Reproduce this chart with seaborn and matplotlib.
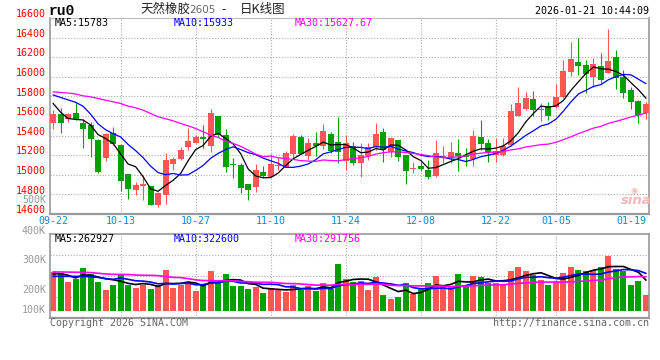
import numpy as np
import pandas as pd
import matplotlib
matplotlib.use("Agg")
import matplotlib.pyplot as plt
import matplotlib.transforms as mtrans
import seaborn as sns

# ---------------- data ----------------
dates = ["09-22", "09-23", "09-24", "09-25", "09-26", "09-29", "09-30",
         "10-09", "10-10", "10-13", "10-14", "10-15", "10-16", "10-17",
         "10-20", "10-21", "10-22", "10-23", "10-24", "10-27", "10-28",
         "10-29", "10-30", "10-31", "11-03", "11-04", "11-05", "11-06",
         "11-07", "11-10", "11-11", "11-12", "11-13", "11-14", "11-17",
         "11-18", "11-19", "11-20", "11-21", "11-24", "11-25", "11-26",
         "11-27", "11-28", "12-01", "12-02", "12-03", "12-04", "12-05",
         "12-08", "12-09", "12-10", "12-11", "12-12", "12-15", "12-16",
         "12-17", "12-18", "12-19", "12-22", "12-23", "12-24", "12-25",
         "12-26", "12-29", "12-30", "12-31", "01-05", "01-06", "01-07",
         "01-08", "01-09", "01-12", "01-13", "01-14", "01-15", "01-16",
         "01-19", "01-20", "01-21"]

opens = [15531, 15619, 15565, 15633, 15531, 15507, 15354, 15170, 15429, 15303,
         15007, 14847, 14888, 14885, 14691, 14796, 15109, 15157, 15279, 15327,
         15388, 15293, 15599, 15405, 15109, 15099, 14905, 14878, 15028, 14973,
         15089, 15082, 15211, 15388, 15191, 15320, 15293, 15415, 15334, 15143,
         15293, 15123, 15194, 15279, 15436, 15235, 15354, 15198, 15062, 15089,
         15048, 14987, 15170, 15172, 15223, 15206, 15162, 15385, 15325, 15206,
         15206, 15308, 15595, 15670, 15771, 15663, 15703, 15690, 15791, 16052,
         16150, 16119, 16001, 16109, 16042, 16200, 16001, 15866, 15754, 15632]
highs = [15660, 15677, 15626, 15728, 15565, 15541, 15361, 15422, 15490, 15303,
         15007, 14929, 14997, 14885, 14827, 15218, 15184, 15279, 15473, 15405,
         15507, 15667, 15599, 15463, 15167, 15116, 14905, 15109, 15089, 15211,
         15184, 15245, 15415, 15402, 15374, 15436, 15517, 15439, 15585, 15405,
         15334, 15320, 15320, 15524, 15473, 15388, 15354, 15198, 15133, 15133,
         15150, 15354, 15295, 15335, 15368, 15274, 15460, 15561, 15368, 15375,
         15375, 15724, 15896, 15849, 15856, 15730, 15747, 15927, 16177, 16353,
         16397, 16170, 16197, 16241, 16485, 16278, 16069, 15899, 15764, 15747]
lows = [15466, 15422, 15541, 15558, 15276, 15184, 15014, 15143, 15303, 14837,
        14756, 14793, 14742, 14688, 14674, 14701, 15048, 15150, 15252, 15320,
        15269, 15235, 15388, 15031, 14963, 14810, 14742, 14827, 14980, 14973,
        15048, 15075, 15157, 15211, 15150, 15191, 15259, 15225, 15123, 15048,
        15099, 14980, 15150, 15252, 15133, 15184, 15143, 14905, 15014, 15041,
        14960, 14980, 15120, 15122, 15037, 15088, 15088, 15257, 15128, 15128,
        15189, 15291, 15595, 15663, 15595, 15551, 15561, 15680, 15781, 16008,
        16018, 15832, 15899, 15933, 16035, 15876, 15781, 15673, 15527, 15571]
closes = [15619, 15524, 15619, 15565, 15470, 15368, 15031, 15415, 15313, 14939,
          14851, 14895, 14905, 14694, 14810, 15150, 15157, 15252, 15344, 15381,
          15361, 15626, 15405, 15082, 15096, 14868, 14844, 15048, 14987, 15109,
          15099, 15225, 15395, 15211, 15320, 15293, 15449, 15245, 15235, 15320,
          15123, 15201, 15279, 15415, 15252, 15374, 15184, 15041, 15072, 15055,
          14980, 15218, 15195, 15233, 15196, 15179, 15399, 15318, 15223, 15240,
          15297, 15656, 15734, 15781, 15663, 15673, 15602, 15798, 16058, 16180,
          16109, 16028, 16129, 15967, 16160, 15984, 15839, 15747, 15612, 15724]
volumes = [333000, 324000, 248000, 270000, 367000, 316000, 248000, 179000, 222000, 307000,
           225000, 196000, 219000, 188000, 219000, 350000, 196000, 225000, 248000, 174000,
           231000, 342000, 236000, 316000, 213000, 213000, 188000, 205000, 154000, 188000,
           188000, 165000, 222000, 179000, 213000, 174000, 239000, 185000, 401000, 273000,
           248000, 256000, 179000, 290000, 137000, 102000, 120000, 239000, 145000, 185000,
           239000, 302000, 205000, 205000, 316000, 213000, 302000, 290000, 239000, 239000,
           222000, 342000, 376000, 342000, 307000, 265000, 222000, 248000, 324000, 376000,
           350000, 342000, 350000, 376000, 472000, 359000, 342000, 222000, 256000, 137000]

# moving-average values at the start of the window (history not shown)
ma5_head = [15730, 15640, 15575, 15565]
ma10_head = [15815, 15790, 15765, 15740, 15700, 15620, 15520, 15460, 15420]
ma30_head = [15847, 15840, 15835, 15825, 15806, 15796, 15779, 15762, 15745, 15728,
             15701, 15684, 15660, 15626, 15592, 15572, 15551, 15524, 15500, 15473,
             15439, 15405, 15381, 15344, 15320, 15290, 15252, 15211, 15184]
vma5_head = [316000, 319000, 305000, 282000]
vma10_head = [296000, 296000, 296000, 295000, 294000, 293000, 287000, 276000, 270000]
vma30_head = [333000, 333000, 332000, 331000, 330000, 328000, 322000, 316000, 313000, 312000,
              311000, 307000, 305000, 304000, 302000, 293000, 287000, 285000, 276000, 266000,
              260000, 259000, 258000, 258000, 257000, 252000, 250000, 246000, 245000]

price_ticks = [16600, 16400, 16200, 16000, 15800, 15600, 15400, 15200, 15000, 14800, 14600]
date_ticks = ["09-22", "10-13", "10-27", "11-10", "11-24", "12-08", "12-22", "01-05", "01-19"]
vol_tick_labels = ["500K", "400K", "300K", "200K", "100K"]

symbol = "ru0"
title_name = "天然橡胶"
title_code = "2605"
title_kind = "日K线图"
timestamp = "2026-01-21 10:44:09"
price_ma_text = ["MA5:15783", "MA10:15933", "MA30:15627.67"]
vol_ma_text = ["MA5:262927", "MA10:322600", "MA30:291756"]
copyright_text = "Copyright 2026 SINA.COM"
url_text = "http://finance.sina.com.cn"

# ---------------- style ----------------
sns.set_style("white")
plt.rcParams["font.family"] = ["DejaVu Sans Mono", "Noto Sans CJK SC"]

RED = "#FF5555"
GREEN = "#00A000"
GRID = "#AAAAAA"
FRAME = "#9A9A9A"
MA_COLORS = ["black", "#0000FF", "#FF00FF"]
DATE_BLUE = "#0A8CD2"
FS = 7.2

W, H = 660, 360
fig = plt.figure(figsize=(W / 100, H / 100), dpi=100)
fig.patch.set_facecolor("white")


def fx(x):
    return x / W


def fy(y):
    return 1 - y / H


L, R = 50.3, 649.3
P_TOP, P_BOT = 18.1, 213.9
V_TOP, V_BOT = 234.0, 318.0
ax = fig.add_axes([fx(L), fy(P_BOT), (R - L) / W, (P_BOT - P_TOP) / H])
axv = fig.add_axes([fx(L), fy(V_BOT), (R - L) / W, (V_BOT - V_TOP) / H])

n = len(closes)
idx = np.arange(n)
o = np.array(opens, float)
c = np.array(closes, float)
hi = np.array(highs, float)
lo = np.array(lows, float)
vol = np.array(volumes, float)

cs = pd.Series(c)
ma5 = cs.rolling(5).mean().to_numpy(); ma5[:4] = ma5_head
ma10 = cs.rolling(10).mean().to_numpy(); ma10[:9] = ma10_head
ma30 = cs.rolling(30).mean().to_numpy(); ma30[:29] = ma30_head
vs = pd.Series(vol)
vma5 = vs.rolling(5).mean().to_numpy(); vma5[:4] = vma5_head
vma10 = vs.rolling(10).mean().to_numpy(); vma10[:9] = vma10_head
vma30 = vs.rolling(30).mean().to_numpy(); vma30[:29] = vma30_head

up = c >= o
colors = np.where(up, RED, GREEN)

XLIM = (-0.36, 79.44)
for a in (ax, axv):
    a.set_xlim(*XLIM)
    a.set_xticks([])
    a.set_yticks([])
    a.set_facecolor("white")
ax.set_ylim(14600, 16600)
axv.set_ylim(-59800, 657000)

dotted = (0, (1, 1.6))
# grid
for p in price_ticks[1:-1]:
    ax.axhline(p, color=GRID, lw=0.8, ls=dotted, zorder=0)
for frac in (0.25, 0.5, 0.75):
    axv.plot([0, 1], [frac, frac], transform=axv.transAxes, color=GRID, lw=0.8, ls=dotted, zorder=0)
for lbl in date_ticks[1:-1]:
    xi = dates.index(lbl)
    ax.axvline(xi, color=GRID, lw=0.8, ls=dotted, zorder=0)
    axv.axvline(xi, color=GRID, lw=0.8, ls=dotted, zorder=0)

# candles
ax.vlines(idx, lo, hi, colors=colors, lw=0.8, zorder=2)
body_bottom = np.minimum(o, c)
body_h = np.maximum(np.abs(c - o), 9)
ax.bar(idx, body_h, bottom=body_bottom, width=0.8, color=colors, linewidth=0, zorder=3)

# moving averages
for m, col in zip((ma5, ma10, ma30), MA_COLORS):
    sns.lineplot(x=idx, y=m, ax=ax, color=col, lw=0.9, zorder=4)

# volume
axv.bar(idx, vol, width=0.8, color=colors, linewidth=0, zorder=2)
for m, col in zip((vma5, vma10, vma30), MA_COLORS):
    sns.lineplot(x=idx, y=m, ax=axv, color=col, lw=1.2, zorder=4)

for a in (ax, axv):
    a.set_xlabel("")
    a.set_ylabel("")
    for s in a.spines.values():
        s.set_visible(True)
        s.set_color(FRAME)
        s.set_linewidth(1.2)
ax.spines["bottom"].set_linewidth(1.6)
ax.spines["top"].set_color("#BBBBBB")
ax.spines["top"].set_linewidth(0.8)
axv.spines["bottom"].set_linewidth(1.6)

# price labels (red)
tr_y = mtrans.blended_transform_factory(ax.transAxes, ax.transData)
for p in price_ticks:
    ax.text(-0.0072, p + 8, f"{p}", transform=tr_y, ha="right", va="baseline",
            color="#FF0000", fontsize=FS, clip_on=False)

# date labels (blue)
tr_x = mtrans.blended_transform_factory(ax.transData, ax.transAxes)
for lbl in date_ticks:
    ax.text(dates.index(lbl), -0.037, lbl, transform=tr_x, ha="center", va="center",
            color=DATE_BLUE, fontsize=FS, clip_on=False)

# volume labels (gray), placed as in the reference
vol_label_y = [203, 234, 263, 293, 313]
for t, yy in zip(vol_tick_labels, vol_label_y):
    fig.text(fx(46), fy(yy), t, ha="right", va="baseline", color="#999999", fontsize=FS)

# header
fig.text(fx(49), fy(11), symbol, ha="left", va="center", fontsize=10.5,
         fontweight="bold", family=["Liberation Mono", "DejaVu Sans Mono"], color="black")
fig.text(fx(140), fy(9.5), title_name, ha="left", va="center", fontsize=9,
         family=["Noto Sans CJK SC"], color="#222222")
fig.text(fx(189), fy(10), title_code, ha="left", va="center", fontsize=7.5,
         family=["DejaVu Sans"], color="#666666")
fig.text(fx(224), fy(9.5), "-", ha="center", va="center", fontsize=9,
         family=["Noto Sans CJK SC"], color="#222222")
fig.text(fx(240), fy(9.5), title_kind, ha="left", va="center", fontsize=9,
         family=["Noto Sans CJK SC"], color="#222222")
fig.text(fx(649), fy(11), timestamp, ha="right", va="center", fontsize=FS, color="black")

ma_x = [55, 174, 295]
for t, xx, col in zip(price_ma_text, ma_x, MA_COLORS):
    fig.text(fx(xx), fy(23.5), t, ha="left", va="center", fontsize=FS, color=col)
for t, xx, col in zip(vol_ma_text, ma_x, MA_COLORS):
    fig.text(fx(xx), fy(238.5), t, ha="left", va="center", fontsize=FS, color=col)

fig.text(fx(50), fy(323.5), copyright_text, ha="left", va="center", fontsize=FS, color="#666666")
fig.text(fx(649), fy(323.5), url_text, ha="right", va="center", fontsize=FS, color="#666666")

# sina watermark
fig.text(fx(636), fy(200), "sina", ha="center", va="center", fontsize=9.5, fontweight="bold",
         style="italic", family=["DejaVu Sans"], color="#F2B8B8")
fig.text(fx(634), fy(190), "◉", ha="center", va="center", fontsize=6,
         family=["DejaVu Sans"], color="#F2B8B8")

fig.savefig("out.png", dpi=100, facecolor="white")
